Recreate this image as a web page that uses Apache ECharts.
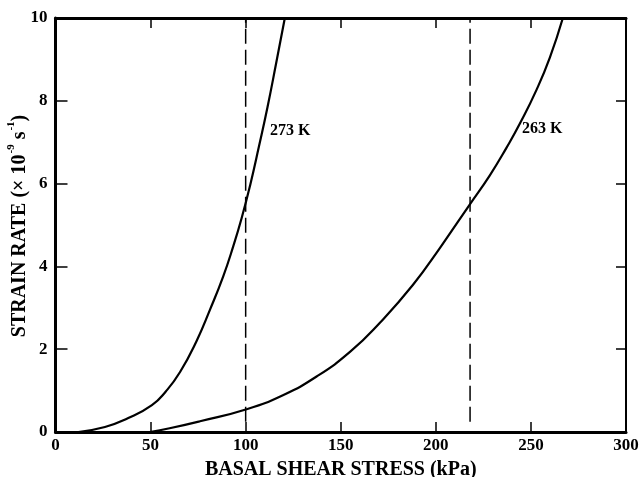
<!DOCTYPE html>
<html>
<head>
<meta charset="utf-8">
<script src="https://cdn.jsdelivr.net/npm/echarts@6/dist/echarts.min.js"></script>
<style>html,body{margin:0;padding:0;background:#fff}#c{width:643px;height:477px}</style>
</head>
<body>
<div id="c"></div>
<script>
const xTicks = [0, 50, 100, 150, 200, 250, 300];
const yTicks = [0, 2, 4, 6, 8, 10];
const curve273 = [[12,0],[26,0.12],[38,0.33],[50.7,0.65],[58,0.98],[65.5,1.45],[74.2,2.2],[81.2,2.95],[88.2,3.76],[93.5,4.49],[97.9,5.17],[102.3,5.95],[107,6.9],[111.5,7.85],[116,8.9],[120.6,10]];
const curve263 = [[49.6,0],[60,0.09],[76,0.26],[100.5,0.55],[119.6,0.89],[137.3,1.34],[155,1.94],[170.6,2.64],[187.9,3.55],[202.2,4.45],[217.9,5.5],[228.4,6.2],[237.2,6.87],[244.2,7.45],[253,8.27],[260,9.05],[266.8,10]];
const dashX = [100, 218];
const dashRange = [0.25, 10];
const labels = [{text:'273 K', x:112.8, y:7.27}, {text:'263 K', x:245.3, y:7.32}];
const yName = '{a|STRAIN RATE (× 10}{s|-9}{a| s}{s|-1}{a|)}';

const font = '"Liberation Serif", "DejaVu Serif", serif';
const chart = echarts.init(document.getElementById('c'));
const series = [];
[curve273, curve263].forEach(d => series.push({
  type:'line', data:d, smooth:0.5, symbol:'none', xAxisIndex:0, yAxisIndex:0,
  lineStyle:{color:'#000', width:2.2}, z:3
}));
dashX.forEach(x => series.push({
  type:'line', data:dashRange.map(y => [x, y]), symbol:'none', xAxisIndex:0, yAxisIndex:0,
  lineStyle:{color:'#000', width:1.5, type:[15,6]}, z:2
}));
series.push({
  type:'scatter', symbolSize:0, xAxisIndex:0, yAxisIndex:0, silent:true,
  itemStyle:{opacity:1},
  data: labels.map(l => ({value:[l.x, l.y], name:l.text})),
  label:{show:true, position:'right', distance:0, formatter:p => p.name, color:'#000', opacity:1,
    textBorderWidth:0, fontFamily:font, fontWeight:'bold', fontSize:16}
});
const tickStyle = {show:true, inside:true, length:10, lineStyle:{color:'#000', width:1.5}};
chart.setOption({
  animation:false,
  grid:{left:55.5, right:17, top:18, bottom:45, outerBoundsMode:'none', containLabel:false},
  graphic:[{
    type:'text', x:18, y:226, rotation:Math.PI/2, silent:true,
    style:{
      text:yName, align:'center', verticalAlign:'middle', fill:'#000',
      fontFamily:font, fontWeight:'bold', fontSize:20,
      rich:{
        a:{fill:'#000', fontFamily:font, fontWeight:'bold', fontSize:20, lineHeight:24, verticalAlign:'bottom'},
        s:{fill:'#000', fontFamily:font, fontWeight:'bold', fontSize:11, lineHeight:24, verticalAlign:'top', padding:[0,0,0,1]}
      }
    }
  }],
  xAxis:[{
    type:'value', min:0, max:300, interval:50, position:'bottom',
    name:'BASAL SHEAR STRESS (kPa)', nameLocation:'middle', nameGap:28,
    nameTextStyle:{color:'#000', fontFamily:font, fontWeight:'bold', fontSize:20},
    axisLine:{show:true, onZero:false, lineStyle:{color:'#000', width:3}},
    axisTick:tickStyle,
    axisLabel:{color:'#000', fontFamily:font, fontWeight:'bold', fontSize:17, margin:5},
    splitLine:{show:false}
  },{
    type:'value', min:0, max:300, interval:50, position:'top',
    axisLine:{show:true, onZero:false, lineStyle:{color:'#000', width:3}},
    axisTick:tickStyle,
    axisLabel:{show:false}, splitLine:{show:false}
  }],
  yAxis:[{
    type:'value', min:0, max:10, interval:2, position:'left',
    axisLine:{show:true, onZero:false, lineStyle:{color:'#000', width:3}},
    axisTick:{show:true, inside:true, length:12, lineStyle:{color:'#000', width:1.5}},
    axisLabel:{color:'#000', fontFamily:font, fontWeight:'bold', fontSize:17, margin:8},
    splitLine:{show:false}
  },{
    type:'value', min:0, max:10, interval:2, position:'right',
    axisLine:{show:true, onZero:false, lineStyle:{color:'#000', width:2}},
    axisTick:tickStyle,
    axisLabel:{show:false}, splitLine:{show:false}
  }],
  series: series
});
</script>
</body>
</html>
